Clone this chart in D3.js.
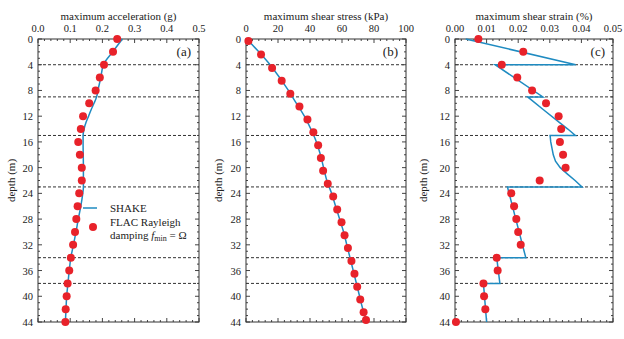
<!DOCTYPE html>
<html>
<head>
<meta charset="utf-8">
<script src="https://cdn.jsdelivr.net/npm/d3@7"></script>
<style>
  body { margin: 0; background: #fff; }
</style>
</head>
<body>
<div id="chart"></div>
<script>
// layer boundaries (m)
var layers = [4, 9, 15, 23, 34, 38];

// (a) maximum acceleration (g)
var accDepth = [0, 2, 4, 6, 8, 10, 12, 14, 16, 18, 20, 22, 24, 26, 28, 30, 32, 34, 36, 38, 40, 42, 44];
var accFlac = [0.246, 0.233, 0.205, 0.192, 0.179, 0.159, 0.140, 0.133, 0.125, 0.130, 0.136, 0.136,
               0.128, 0.123, 0.119, 0.115, 0.109, 0.102, 0.097, 0.092, 0.089, 0.086, 0.085];
var accShakeDepth = [0, 2, 4, 6, 8, 9, 10, 11, 12, 13, 14, 15, 16, 20, 23, 24, 26, 28, 30, 32, 34, 36, 38, 40, 42, 44];
var accShake = [0.262, 0.232, 0.203, 0.195, 0.186, 0.182, 0.174, 0.165, 0.157, 0.149, 0.143, 0.140, 0.140,
                0.141, 0.141, 0.139, 0.133, 0.125, 0.118, 0.110, 0.102, 0.097, 0.093, 0.089, 0.087, 0.085];

// (b) maximum shear stress (kPa)
var stressDepth = [0.3, 2.4, 4.5, 6.5, 8.5, 10.5, 12.5, 14.5, 16.5, 18.5, 20.5, 22.5, 24.5, 26.5,
                   28.5, 30.5, 32.5, 34.5, 36.5, 38.5, 40.5, 42.5, 43.7];
var stressFlac = [1.5, 9.4, 16.3, 22.3, 27.7, 33.4, 38.4, 42.1, 45.1, 46.8, 48.2, 51.1, 54.5, 57.0,
                  59.7, 61.6, 63.7, 65.9, 67.8, 69.5, 71.4, 73.5, 75.0];
var stressShakeDepth = [0, 2, 4, 6, 8, 10, 12, 14, 16, 18, 20, 22, 24, 26, 28, 30, 32, 34, 36, 38, 40, 42, 44];
var stressShake = [0.5, 8, 15, 21, 26.5, 31.5, 36.5, 40.5, 44, 46.5, 48.5, 50.5, 53.5, 56, 58.5,
                   61, 63, 65, 67, 69, 71, 73, 75.5];

// (c) maximum shear strain (%)
var strainDepth = accDepth;
var strainFlac = [0.0074, 0.0216, 0.0148, 0.0197, 0.0244, 0.0288, 0.0328, 0.0336, 0.0332, 0.0342, 0.0350, 0.0268,
                  0.0178, 0.0187, 0.0194, 0.0200, 0.0208, 0.0132, 0.0135, 0.0090, 0.0092, 0.0096, 0.0003];
var strainShakeDepth = [0, 4, 4, 9, 9, 11, 13, 14, 15, 15, 16, 17, 18, 19, 20, 21, 22, 23, 23, 34, 34, 38, 38, 44];
var strainShake = [0.0034, 0.0382, 0.0127, 0.0278, 0.0230, 0.0280, 0.0331, 0.0357, 0.0381, 0.0301, 0.0303, 0.0307,
                   0.0311, 0.0318, 0.0333, 0.0356, 0.0380, 0.0402, 0.0166, 0.0224, 0.0132, 0.0142, 0.0090, 0.0100];

var panels = [
  {title: "maximum acceleration (g)", tag: "(a)", x0: 38, x1: 199, domain: [0, 0.5], ticks: [0, 0.1, 0.2, 0.3, 0.4, 0.5],
   minor: 0.02, fmt: d3.format(".1f"), ylab: 15,
   flacD: accDepth, flac: accFlac, shakeD: accShakeDepth, shake: accShake, curve: d3.curveMonotoneY},
  {title: "maximum shear stress (kPa)", tag: "(b)", x0: 246, x1: 406, domain: [0, 100], ticks: [0, 20, 40, 60, 80, 100],
   minor: 4, fmt: d3.format("d"), ylab: 222,
   flacD: stressDepth, flac: stressFlac, shakeD: stressShakeDepth, shake: stressShake, curve: d3.curveMonotoneY},
  {title: "maximum shear strain (%)", tag: "(c)", x0: 455, x1: 613, domain: [0, 0.05], ticks: [0, 0.01, 0.02, 0.03, 0.04, 0.05],
   minor: 0.002, fmt: d3.format(".2f"), ylab: 427,
   flacD: strainDepth, flac: strainFlac, shakeD: strainShakeDepth, shake: strainShake, curve: d3.curveLinear}
];

var lineColor = "#1f8bc1", dotColor = "#e8222a";
var fontFam = "'Liberation Serif', 'DejaVu Serif', serif";
var y0 = 39, y1 = 322;

var svg = d3.select("#chart").append("svg")
    .attr("width", 624)
    .attr("height", 339)
    .attr("font-family", fontFam)
    .style("font-family", fontFam);

var y = d3.scaleLinear().domain([0, 44]).range([y0, y1]);

panels.forEach(function(p) {
  var x = d3.scaleLinear().domain(p.domain).range([p.x0, p.x1]);
  var g = svg.append("g").attr("fill", "#222");

  // dashed layer boundaries
  g.selectAll(".layer").data(layers).enter().append("line")
      .attr("x1", p.x0).attr("x2", p.x1)
      .attr("y1", function(d) { return y(d); })
      .attr("y2", function(d) { return y(d); })
      .attr("stroke", "#333")
      .attr("stroke-width", 1)
      .attr("stroke-dasharray", "3,2");

  // minor ticks, inward on all sides
  var xMinor = d3.range(p.domain[0], p.domain[1] + p.minor / 2, p.minor);
  var yMinor = d3.range(0, 45, 1);
  xMinor.forEach(function(v) {
    var len = Math.abs(v / (p.minor * 5) - Math.round(v / (p.minor * 5))) < 1e-6 ? 4 : 2;
    g.append("line").attr("x1", x(v)).attr("x2", x(v)).attr("y1", y0).attr("y2", y0 + len).attr("stroke", "#444");
    g.append("line").attr("x1", x(v)).attr("x2", x(v)).attr("y1", y1).attr("y2", y1 - len).attr("stroke", "#444");
  });
  yMinor.forEach(function(v) {
    var len = v % 4 == 0 ? 4 : 2;
    g.append("line").attr("x1", p.x0).attr("x2", p.x0 + len).attr("y1", y(v)).attr("y2", y(v)).attr("stroke", "#444");
    g.append("line").attr("x1", p.x1).attr("x2", p.x1 - len).attr("y1", y(v)).attr("y2", y(v)).attr("stroke", "#444");
  });

  // frame
  g.append("rect")
      .attr("x", p.x0).attr("y", y0)
      .attr("width", p.x1 - p.x0).attr("height", y1 - y0)
      .attr("fill", "none")
      .attr("stroke", "#333")
      .attr("stroke-width", 1);

  // top axis labels
  g.selectAll(".xt").data(p.ticks).enter().append("text")
      .attr("x", function(d) { return x(d); })
      .attr("y", 32)
      .attr("text-anchor", "middle")
      .attr("font-size", 10.5)
      .text(function(d) { return p.fmt(d); });

  g.append("text")
      .attr("x", (p.x0 + p.x1) / 2)
      .attr("y", 20)
      .attr("text-anchor", "middle")
      .attr("font-size", 11)
      .text(p.title);

  // left axis labels
  g.selectAll(".yt").data(d3.range(0, 45, 4)).enter().append("text")
      .attr("x", p.x0 - 5)
      .attr("y", function(d) { return y(d) + 4; })
      .attr("text-anchor", "end")
      .attr("font-size", 10.5)
      .text(function(d) { return d; });

  g.append("text")
      .attr("transform", "translate(" + p.ylab + "," + ((y0 + y1) / 2) + ") rotate(-90)")
      .attr("text-anchor", "middle")
      .attr("font-size", 11)
      .text("depth (m)");

  g.append("text")
      .attr("x", p.x1 - 8)
      .attr("y", 56)
      .attr("text-anchor", "end")
      .attr("font-size", 13)
      .text(p.tag);

  // SHAKE line
  var shakePts = p.shakeD.map(function(d, i) { return {d: d, v: p.shake[i]}; });
  g.append("path")
      .datum(shakePts)
      .attr("fill", "none")
      .attr("stroke", lineColor)
      .attr("stroke-width", 1.5)
      .attr("d", d3.line()
        .x(function(d) { return x(d.v); })
        .y(function(d) { return y(d.d); })
        .curve(p.curve));

  // FLAC points
  var flacPts = p.flacD.map(function(d, i) { return {d: d, v: p.flac[i]}; });
  g.selectAll(".dot").data(flacPts).enter().append("circle")
      .attr("cx", function(d) { return x(d.v); })
      .attr("cy", function(d) { return y(d.d); })
      .attr("r", 4)
      .attr("fill", dotColor);
});

// legend in panel (a)
var leg = svg.append("g").attr("fill", "#222");
leg.append("line")
    .attr("x1", 83).attr("x2", 97).attr("y1", 208).attr("y2", 208)
    .attr("stroke", lineColor).attr("stroke-width", 1.5);
leg.append("text").attr("x", 110).attr("y", 212).attr("font-size", 11).text("SHAKE");
leg.append("circle").attr("cx", 93).attr("cy", 227).attr("r", 4).attr("fill", dotColor);
leg.append("text").attr("x", 110).attr("y", 226).attr("font-size", 11).text("FLAC Rayleigh");
var t2 = leg.append("text").attr("x", 110).attr("y", 239).attr("font-size", 11);
t2.append("tspan").text("damping ");
t2.append("tspan").attr("font-style", "italic").text("f");
t2.append("tspan").attr("font-size", 8).attr("dy", 2).text("min");
t2.append("tspan").attr("dy", -2).text(" = Ω");
</script>
</body>
</html>
